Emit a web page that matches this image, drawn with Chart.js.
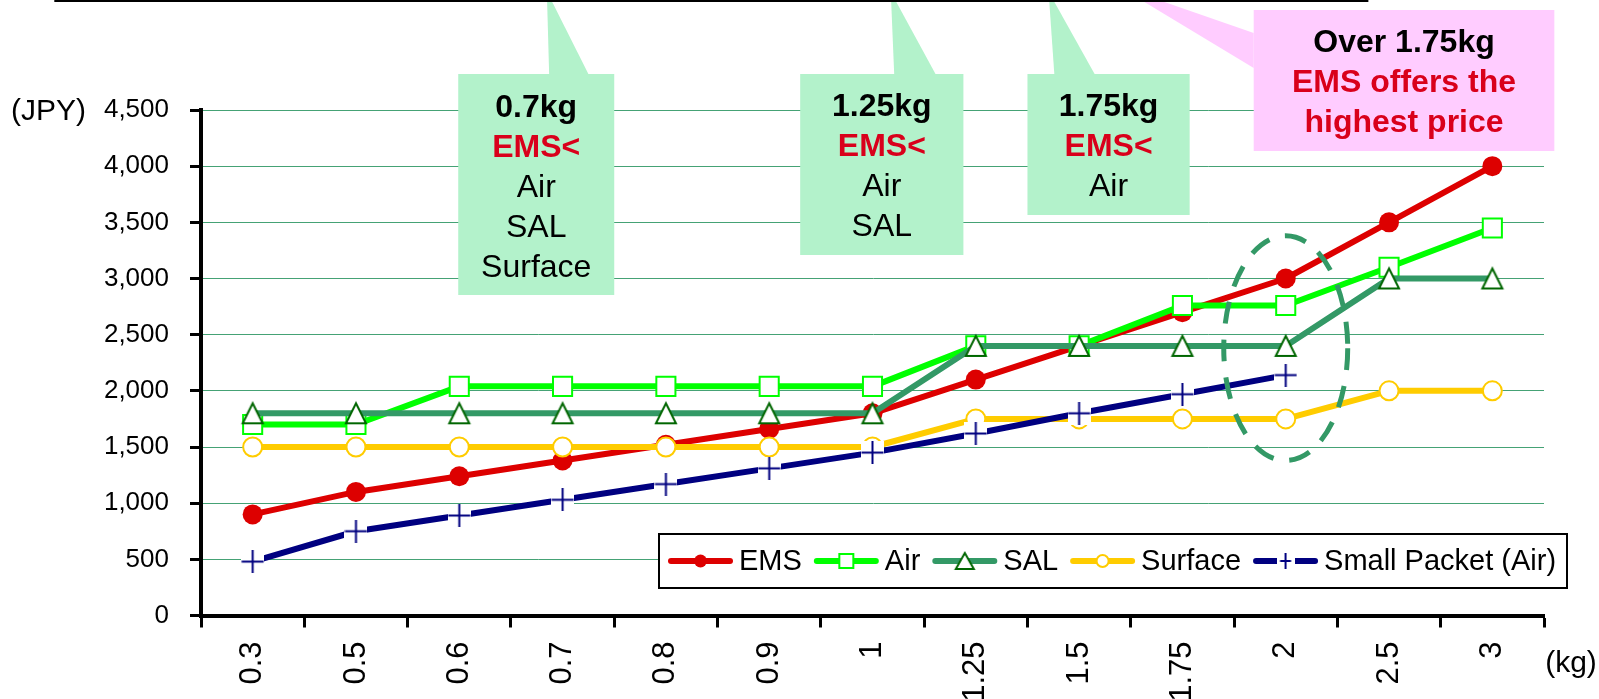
<!DOCTYPE html>
<html>
<head>
<meta charset="utf-8">
<script src="https://cdn.jsdelivr.net/npm/chart.js@4.4.1/dist/chart.umd.min.js"></script>
<style>
  html, body { margin: 0; padding: 0; background: #fff; overflow: hidden; }
  canvas { display: block; }
</style>
</head>
<body>
<canvas id="rateChart" width="1599" height="740"></canvas>
<script>
// Shipping price by weight (JPY)
const weights = ['0.3', '0.5', '0.6', '0.7', '0.8', '0.9', '1', '1.25', '1.5', '1.75', '2', '2.5', '3'];
const ems = [900, 1100, 1240, 1380, 1520, 1660, 1800, 2100, 2400, 2700, 3000, 3500, 4000];
const air = [1700, 1700, 2040, 2040, 2040, 2040, 2040, 2400, 2400, 2760, 2760, 3100, 3450];
const sal = [1800, 1800, 1800, 1800, 1800, 1800, 1800, 2400, 2400, 2400, 2400, 3000, 3000];
const surface = [1500, 1500, 1500, 1500, 1500, 1500, 1500, 1750, 1750, 1750, 1750, 2000, 2000];
const smallPacket = [480, 750, 890, 1030, 1170, 1310, 1450, 1620, 1800, 1970, 2140, null, null];
const seriesNames = ['EMS', 'Air', 'SAL', 'Surface', 'Small Packet (Air)'];
const yTicks = [0, 500, 1000, 1500, 2000, 2500, 3000, 3500, 4000, 4500];
const yUnit = '(JPY)';
const xUnit = '(kg)';

const FONT = "'Liberation Sans', Arial, sans-serif";
const RED = '#dd0000', LIME = '#00ff00', SEA = '#339966', GOLD = '#ffcc00', NAVY = '#000080';
const TEXT_RED = '#d9001b';

// callout notes (x in category units, y in px from top)
const callouts = [
  { fill: '#b3f2cb', box: [2.49, 4.0, 74, 295], ptr: [[3.35, 0], [3.39, 0], [3.75, 74], [3.37, 74]], y0: 108,
    lines: [['0.7kg', '#000', 1], ['EMS<', TEXT_RED, 1], ['Air', '#000', 0], ['SAL', '#000', 0], ['Surface', '#000', 0]] },
  { fill: '#b3f2cb', box: [5.80, 7.38, 74, 255], ptr: [[6.68, 0], [6.72, 0], [7.11, 74], [6.71, 74]], y0: 107,
    lines: [['1.25kg', '#000', 1], ['EMS<', TEXT_RED, 1], ['Air', '#000', 0], ['SAL', '#000', 0]] },
  { fill: '#b3f2cb', box: [8.0, 9.57, 74, 215], ptr: [[8.21, 0], [8.25, 0], [8.65, 74], [8.26, 74]], y0: 107,
    lines: [['1.75kg', '#000', 1], ['EMS<', TEXT_RED, 1], ['Air', '#000', 0]] },
  { fill: '#ffccff', box: [10.19, 13.1, 10, 151], ptr: [[9.10, 0], [9.27, 0], [10.19, 33], [10.19, 68]], y0: 43, step: 40,
    lines: [['Over 1.75kg', '#000', 1], ['EMS offers the', TEXT_RED, 1], ['highest price', TEXT_RED, 1]] }
];

function triMarker(w, h, lw) {
  const pad = 3;
  const c = document.createElement('canvas');
  c.width = w + pad * 2; c.height = h + pad * 2;
  const g = c.getContext('2d');
  g.beginPath();
  g.moveTo(c.width / 2, pad);
  g.lineTo(pad + w, pad + h);
  g.lineTo(pad, pad + h);
  g.closePath();
  g.fillStyle = '#fff'; g.fill();
  g.lineWidth = lw; g.strokeStyle = '#006600'; g.stroke();
  return c;
}

function plusMarker(box, armW, armH, lw) {
  const c = document.createElement('canvas');
  c.width = box; c.height = box;
  const g = c.getContext('2d');
  g.fillStyle = '#fff'; g.fillRect(0, 0, box, box);
  g.strokeStyle = NAVY; g.lineWidth = lw;
  g.beginPath();
  g.moveTo((box - armW) / 2, box / 2); g.lineTo((box + armW) / 2, box / 2);
  g.moveTo(box / 2, (box - armH) / 2); g.lineTo(box / 2, (box + armH) / 2);
  g.stroke();
  return c;
}

const triBig = triMarker(20, 20, 2);
const plusBig = plusMarker(23, 22, 23, 2);
const triSmall = triMarker(18, 16, 2);
const plusSmall = plusMarker(18, 11, 16, 2);

const legendMarks = [
  { color: RED, kind: 'dot', r: 6.5 },
  { color: LIME, kind: 'square', r: 7 },
  { color: SEA, kind: 'img', img: triSmall },
  { color: GOLD, kind: 'ring', r: 6 },
  { color: NAVY, kind: 'img', img: plusSmall }
];

const annotations = {
  id: 'annotations',
  afterDatasetsDraw(chart) {
    const ctx = chart.ctx;
    const x = chart.scales.x, y = chart.scales.y;
    // dashed ellipse around the 2kg point
    const cw = (chart.chartArea.right - chart.chartArea.left) / weights.length;
    const cx = x.getPixelForValue(10);
    const cy = y.getPixelForValue(2380);
    const ry = y.getPixelForValue(1380) - cy;
    ctx.save();
    ctx.strokeStyle = SEA; ctx.lineWidth = 5; ctx.setLineDash([22, 16]);
    ctx.beginPath();
    ctx.ellipse(cx, cy, cw * 0.6, ry, 0, 0, Math.PI * 2);
    ctx.stroke();
    ctx.restore();

    // legend box
    const lx = 659, ly = 534, lw = 908, lh = 54;
    ctx.save();
    ctx.fillStyle = '#fff'; ctx.fillRect(lx, ly, lw, lh);
    ctx.strokeStyle = '#000'; ctx.lineWidth = 2; ctx.strokeRect(lx, ly, lw, lh);
    ctx.font = '29px ' + FONT;
    ctx.textBaseline = 'middle';
    let px = lx + 9;
    const my = ly + lh / 2;
    seriesNames.forEach((name, i) => {
      const m = legendMarks[i];
      ctx.strokeStyle = m.color; ctx.lineWidth = 6; ctx.lineCap = 'round';
      ctx.beginPath(); ctx.moveTo(px + 3, my); ctx.lineTo(px + 62, my); ctx.stroke();
      const mx = px + 32.5;
      if (m.kind === 'dot') {
        ctx.fillStyle = m.color; ctx.beginPath(); ctx.arc(mx, my, m.r, 0, Math.PI * 2); ctx.fill();
      } else if (m.kind === 'ring') {
        ctx.fillStyle = '#fff'; ctx.strokeStyle = m.color; ctx.lineWidth = 2;
        ctx.beginPath(); ctx.arc(mx, my, m.r, 0, Math.PI * 2); ctx.fill(); ctx.stroke();
      } else if (m.kind === 'square') {
        ctx.fillStyle = '#fff'; ctx.strokeStyle = m.color; ctx.lineWidth = 2;
        ctx.fillRect(mx - m.r, my - m.r, m.r * 2, m.r * 2); ctx.strokeRect(mx - m.r, my - m.r, m.r * 2, m.r * 2);
      } else {
        ctx.drawImage(m.img, mx - m.img.width / 2, my - m.img.height / 2);
      }
      ctx.fillStyle = '#000';
      ctx.fillText(name, px + 71, my + 1);
      px += 71 + ctx.measureText(name).width + 12;
    });
    ctx.restore();
  },
  afterDraw(chart) {
    const ctx = chart.ctx;
    const area = chart.chartArea;
    const cw = (area.right - area.left) / weights.length;
    const cx = (u) => area.left + u * cw;
    ctx.save();
    // callouts
    callouts.forEach(c => {
      ctx.fillStyle = c.fill;
      ctx.beginPath();
      c.ptr.forEach((p, i) => { const X = cx(p[0]); i ? ctx.lineTo(X, p[1]) : ctx.moveTo(X, p[1]); });
      ctx.closePath(); ctx.fill();
      ctx.fillRect(cx(c.box[0]), c.box[2], cx(c.box[1]) - cx(c.box[0]), c.box[3] - c.box[2]);
      const mid = (cx(c.box[0]) + cx(c.box[1])) / 2;
      ctx.textAlign = 'center'; ctx.textBaseline = 'middle';
      c.lines.forEach((ln, i) => {
        ctx.font = (ln[2] ? 'bold ' : '') + '32px ' + FONT;
        ctx.fillStyle = ln[1];
        ctx.fillText(ln[0], mid, c.y0 + i * (c.step || 40));
      });
    });
    // top rule
    ctx.strokeStyle = '#000'; ctx.lineWidth = 2;
    ctx.beginPath(); ctx.moveTo(cx(-1.42), 1); ctx.lineTo(cx(11.30), 1); ctx.stroke();
    // unit labels
    ctx.fillStyle = '#000'; ctx.font = '30px ' + FONT; ctx.textBaseline = 'middle';
    ctx.textAlign = 'left';
    ctx.fillText(yUnit, 11, chart.scales.y.getPixelForValue(4500) + 2);
    ctx.font = '30px ' + FONT; ctx.textAlign = 'center';
    ctx.fillText(xUnit, 1571, 664);
    ctx.restore();
  }
};

const CANVAS_H = 740;
const ctxEl = document.getElementById('rateChart');
new Chart(ctxEl, {
  type: 'line',
  data: {
    labels: weights,
    datasets: [
      { label: seriesNames[0], data: ems, order: 4, borderColor: RED, backgroundColor: RED, borderWidth: 6,
        pointStyle: 'circle', pointRadius: 10, pointBackgroundColor: RED, pointBorderColor: RED, pointBorderWidth: 0 },
      { label: seriesNames[1], data: air, order: 3, borderColor: LIME, backgroundColor: '#fff', borderWidth: 6,
        pointStyle: 'rect', pointRadius: 13.5, pointBackgroundColor: '#fff', pointBorderColor: LIME, pointBorderWidth: 2 },
      { label: seriesNames[2], data: sal, order: 2, borderColor: SEA, backgroundColor: '#fff', borderWidth: 6,
        pointStyle: triBig, pointRadius: 11 },
      { label: seriesNames[3], data: surface, order: 1, borderColor: GOLD, backgroundColor: '#fff', borderWidth: 6,
        pointStyle: 'circle', pointRadius: 9.5, pointBackgroundColor: '#fff', pointBorderColor: GOLD, pointBorderWidth: 2 },
      { label: seriesNames[4], data: smallPacket, order: 0, borderColor: NAVY, backgroundColor: '#fff', borderWidth: 6,
        pointStyle: plusBig, pointRadius: 11 }
    ]
  },
  options: {
    responsive: false,
    animation: false,
    events: [],
    layout: { padding: { left: 0, right: 55, top: 110, bottom: 0 } },
    plugins: { legend: { display: false }, tooltip: { enabled: false } },
    elements: { line: { tension: 0, borderCapStyle: 'round', borderJoinStyle: 'round' } },
    scales: {
      x: {
        type: 'category',
        offset: true,
        afterFit: (s) => { s.height = CANVAS_H - 615.5; },
        grid: { offset: true, drawOnChartArea: false, drawTicks: true, tickLength: 12, tickColor: '#000', tickWidth: 3 },
        border: { color: '#000', width: 4 },
        ticks: { autoSkip: false, maxRotation: 90, minRotation: 90, padding: 14, color: '#000', font: { family: FONT, size: 31 } }
      },
      y: {
        min: 0, max: 4500,
        afterFit: (s) => { s.width = 201; },
        afterBuildTicks: (s) => { s.ticks = yTicks.map(v => ({ value: v })); },
        grid: { color: '#45a275', lineWidth: 1, drawTicks: true, tickLength: 11, tickColor: '#000', tickWidth: 3 },
        border: { color: '#000', width: 4 },
        ticks: { padding: 21, color: '#000', font: { family: FONT, size: 26 },
          callback: (v) => Number(v).toLocaleString('en-US') }
      }
    }
  },
  plugins: [annotations]
});
</script>
</body>
</html>
